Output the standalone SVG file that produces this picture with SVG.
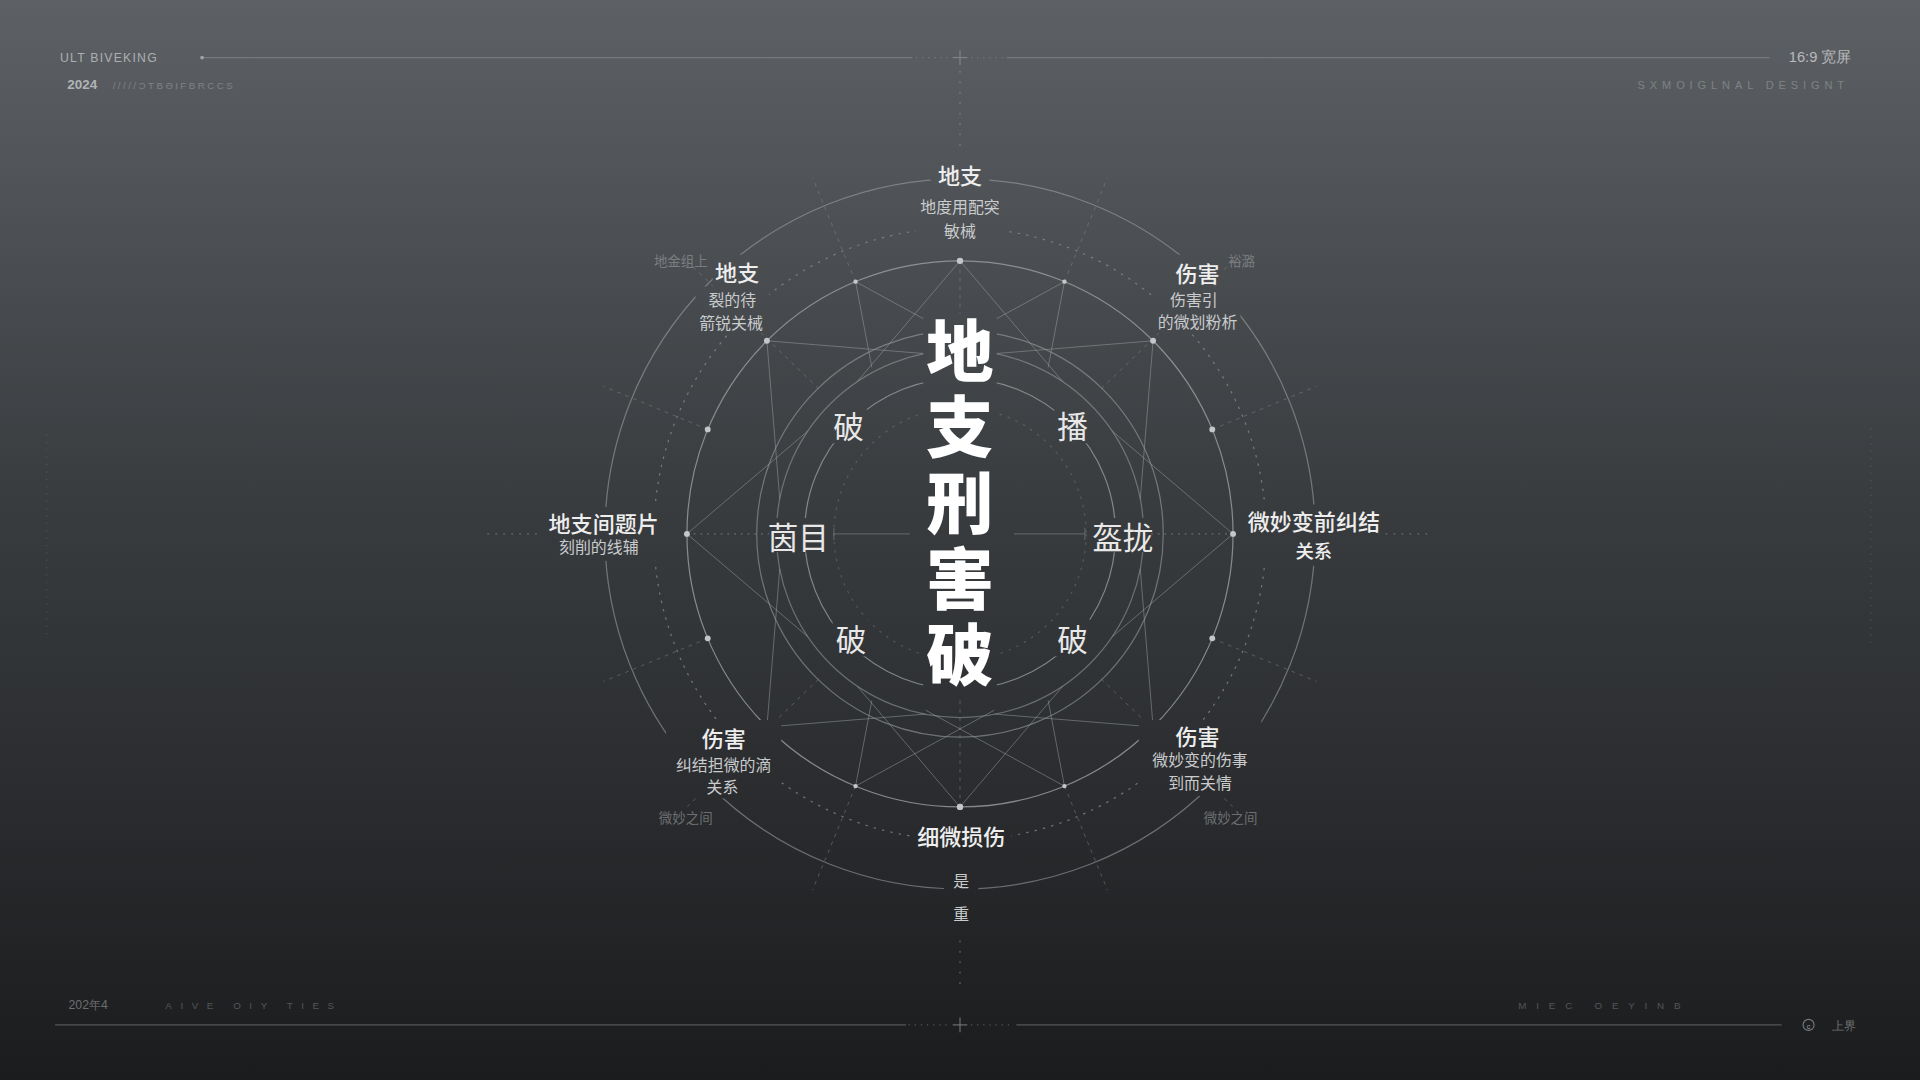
<svg xmlns="http://www.w3.org/2000/svg" width="1920" height="1080" viewBox="0 0 1920 1080">
<defs>
<linearGradient id="bg" gradientUnits="userSpaceOnUse" x1="0" y1="0" x2="0" y2="882">
<stop offset="0" stop-color="#5d6165"/>
<stop offset="0.45" stop-color="#3a3d40"/>
<stop offset="1" stop-color="#1b1c1e"/>
</linearGradient>
<style>
.ring{fill:none;stroke:#a4a7aa;stroke-width:1}
.dash{fill:none;stroke:#8f9295;stroke-width:1;stroke-dasharray:2 5}
.spoke{stroke:#8f9295;stroke-width:0.8;stroke-dasharray:3 4;opacity:0.45}
.star{stroke:#a0a3a6;stroke-width:0.8;opacity:0.5;fill:none}
.dot{fill:#c4c7c9}
.m{fill:url(#bg)}
.t{font-family:"Noto Sans CJK SC","Noto Sans",sans-serif;text-anchor:middle;dominant-baseline:central}
.lbl{fill:#eeeeee;font-size:18px;font-weight:500}
.sub{fill:#c9cbcd;font-size:13px;font-weight:400}
.faint{fill:#9a9da0;font-size:11px;opacity:0.6}
.inner{fill:#e8e8e8;font-size:25px}
.title{fill:#ffffff;font-size:55px;font-weight:900;font-family:"Noto Sans CJK SC","Noto Sans",sans-serif}
.hdr{font-family:"Liberation Sans","Noto Sans",sans-serif;fill:#c8cacc}
.line{stroke:#8a8d90;stroke-width:1}
</style>
</defs>
<g transform="scale(1.2244898)">
<rect x="0" y="0" width="1568" height="882" fill="url(#bg)"/>

<g id="frame">
<text class="hdr" x="49" y="51" font-size="10" letter-spacing="1" opacity="0.75">ULT BIVEKING</text>
<text class="hdr" x="55" y="73" font-size="11" font-weight="bold" opacity="0.8">2024</text>
<text class="hdr" x="92" y="73" font-size="8" letter-spacing="2" opacity="0.35">/////ƆTBƏIFBRCCS</text>
<line class="line" x1="165" y1="47" x2="745" y2="47" opacity="0.6"/>
<circle cx="165" cy="47" r="1.5" fill="#a0a3a6"/>
<line class="line" x1="748" y1="47" x2="775" y2="47" stroke-dasharray="1 4" opacity="0.6"/>
<line class="line" x1="778" y1="47" x2="790" y2="47" opacity="0.8"/>
<line class="line" x1="784" y1="41" x2="784" y2="53" opacity="0.8"/>
<line class="line" x1="793" y1="47" x2="820" y2="47" stroke-dasharray="1 4" opacity="0.6"/>
<line class="line" x1="822" y1="47" x2="1445" y2="47" opacity="0.6"/>
<text class="hdr" x="1512" y="51" font-size="12" text-anchor="end" opacity="0.85" font-family="Noto Sans CJK SC,sans-serif">16:9 宽屏</text>
<text class="hdr" x="1510" y="73" font-size="9" letter-spacing="4" text-anchor="end" opacity="0.35">SXMOIGLNAL DESIGNT</text>
<line class="line" x1="784" y1="58" x2="784" y2="120" stroke-dasharray="1.5 7" stroke-width="1.6" opacity="0.7"/>

<text class="hdr" x="56" y="824" font-size="10" opacity="0.45" font-family="Noto Sans CJK SC,sans-serif">202年4</text>
<text class="hdr" x="135" y="824" font-size="8" letter-spacing="7" opacity="0.3">AIVE  OIY TIES</text>
<text class="hdr" x="1240" y="824" font-size="8" letter-spacing="8" opacity="0.3">MIEC  OEYINB</text>
<line class="line" x1="45" y1="837" x2="740" y2="837" opacity="0.5"/>
<line class="line" x1="742" y1="837" x2="775" y2="837" stroke-dasharray="1 4" opacity="0.5"/>
<line class="line" x1="778" y1="837" x2="790" y2="837" opacity="0.7"/>
<line class="line" x1="784" y1="831" x2="784" y2="843" opacity="0.7"/>
<line class="line" x1="793" y1="837" x2="828" y2="837" stroke-dasharray="1 4" opacity="0.5"/>
<line class="line" x1="830" y1="837" x2="1455" y2="837" opacity="0.5"/>
<circle cx="1477" cy="837" r="4.5" fill="none" stroke="#a0a3a6" stroke-width="0.9" opacity="0.7"/>
<text class="hdr" x="1477" y="840" font-size="6" text-anchor="middle" opacity="0.7">c</text>
<text class="hdr" x="1496" y="841" font-size="10" opacity="0.45" font-family="Noto Sans CJK SC,sans-serif">上界</text>
<line class="line" x1="784" y1="768" x2="784" y2="805" stroke-dasharray="1.5 7" stroke-width="1.6" opacity="0.6"/>
<line class="line" x1="38" y1="355" x2="38" y2="520" stroke-dasharray="1 5" opacity="0.3"/>
<line class="line" x1="1528" y1="350" x2="1528" y2="530" stroke-dasharray="1 5" opacity="0.3"/>
</g>

<g id="connectors">
<circle class="ring" cx="784" cy="436" r="290" opacity="0.55"/>
<circle class="dash" cx="784" cy="436" r="250" opacity="0.7"/>
<circle class="ring" cx="784" cy="436" r="223" stroke-width="1.3" opacity="0.75"/>
<circle class="ring" cx="784" cy="436" r="166" opacity="0.55"/>
<circle class="ring" cx="784" cy="436" r="150" opacity="0.5"/>
<circle class="ring" cx="784" cy="436" r="127" opacity="0.7"/>
<circle class="dash" cx="784" cy="436" r="103" opacity="0.35"/>

<g>
<line class="spoke" x1="990.0" y1="350.7" x2="1075.0" y2="315.5"/>
<line class="spoke" x1="899.4" y1="317.5" x2="1006.7" y2="213.3"/>
<line class="spoke" x1="869.3" y1="230.0" x2="904.5" y2="145.0"/>
<line class="spoke" x1="698.7" y1="230.0" x2="663.5" y2="145.0"/>
<line class="spoke" x1="668.6" y1="317.5" x2="561.3" y2="213.3"/>
<line class="spoke" x1="578.0" y1="350.7" x2="493.0" y2="315.5"/>
<line class="spoke" x1="578.0" y1="521.3" x2="493.0" y2="556.5"/>
<line class="spoke" x1="668.6" y1="554.5" x2="561.3" y2="658.7"/>
<line class="spoke" x1="698.7" y1="642.0" x2="663.5" y2="727.0"/>
<line class="spoke" x1="869.3" y1="642.0" x2="904.5" y2="727.0"/>
<line class="spoke" x1="899.4" y1="554.5" x2="1006.7" y2="658.7"/>
<line class="spoke" x1="990.0" y1="521.3" x2="1075.0" y2="556.5"/>
<line class="spoke" x1="784" y1="213" x2="784" y2="262"/>
<line class="spoke" x1="784" y1="565" x2="784" y2="659"/>
</g>

<g>
<polyline class="star" points="700.1,311.6 784,213 867.9,311.6"/>
<polyline class="star" points="812.6,288.8 941.7,278.3 931.2,407.4"/>
<polyline class="star" points="908.4,352.1 1007,436 908.4,519.9"/>
<polyline class="star" points="931.2,464.6 941.7,593.7 812.6,583.2"/>
<polyline class="star" points="867.9,560.4 784,659 700.1,560.4"/>
<polyline class="star" points="755.4,583.2 626.3,593.7 636.8,464.6"/>
<polyline class="star" points="659.6,519.9 561,436 659.6,352.1"/>
<polyline class="star" points="636.8,407.4 626.3,278.3 755.4,288.8"/>
<polyline class="star" points="712,300 698.7,230 812,292" opacity="0.3"/>
<polyline class="star" points="856,300 869.3,230 756,292" opacity="0.3"/>
<polyline class="star" points="712,572 698.7,642 812,580" opacity="0.3"/>
<polyline class="star" points="856,572 869.3,642 756,580" opacity="0.3"/>
</g>

<line class="line" x1="398" y1="436" x2="442" y2="436" stroke-dasharray="1.5 5" stroke-width="1.5" opacity="0.6"/>
<line class="line" x1="1125" y1="436" x2="1168" y2="436" stroke-dasharray="1.5 5" stroke-width="1.5" opacity="0.6"/>
<line class="line" x1="561" y1="436" x2="628" y2="436" stroke-dasharray="1.5 4" stroke-width="1.2" opacity="0.6"/>
<line class="line" x1="940" y1="436" x2="1007" y2="436" stroke-dasharray="1.5 4" stroke-width="1.2" opacity="0.6"/>
<line class="line" x1="681" y1="436" x2="743" y2="436" opacity="0.45"/>
<line class="line" x1="681" y1="431" x2="681" y2="441" opacity="0.45"/>
<line class="line" x1="828" y1="436" x2="886" y2="436" opacity="0.45"/>
<line class="line" x1="886" y1="431" x2="886" y2="441" opacity="0.45"/>

<g>
<circle class="dot" cx="1007" cy="436" r="2.4"/>
<circle class="dot" cx="990.0" cy="350.7" r="2.4"/>
<circle class="dot" cx="941.7" cy="278.3" r="2.4"/>
<circle class="dot" cx="869.3" cy="230.0" r="1.8"/>
<circle class="dot" cx="784" cy="213" r="2.6"/>
<circle class="dot" cx="698.7" cy="230.0" r="1.8"/>
<circle class="dot" cx="626.3" cy="278.3" r="2.4"/>
<circle class="dot" cx="578.0" cy="350.7" r="2.4"/>
<circle class="dot" cx="561" cy="436" r="2.4"/>
<circle class="dot" cx="578.0" cy="521.3" r="2.4"/>
<circle class="dot" cx="626.3" cy="593.7" r="2.4"/>
<circle class="dot" cx="698.7" cy="642.0" r="1.8"/>
<circle class="dot" cx="784" cy="659" r="2.6"/>
<circle class="dot" cx="869.3" cy="642.0" r="1.8"/>
<circle class="dot" cx="941.7" cy="593.7" r="2.4"/>
<circle class="dot" cx="990.0" cy="521.3" r="2.4"/>
</g>
</g>

<g id="title">
<rect class="m" x="754" y="256" width="60" height="312"/>
<text class="title" x="784" y="259" writing-mode="vertical-rl" style="writing-mode:vertical-rl" letter-spacing="7">地支刑害破</text>
</g>

<g id="node-top">
<rect class="m" x="760" y="129" width="48" height="26"/>
<rect class="m" x="748" y="157" width="72" height="38"/>
<text class="t lbl"><tspan x="784" y="142">地支</tspan><tspan class="sub" x="784" y="168">地度用配突</tspan><tspan class="sub" x="784" y="188" font-size="12">敏械</tspan></text>
</g>

<g id="node-upper-left">
<text class="t faint" x="556" y="212">地金组上</text>
<rect class="m" x="582" y="208" width="40" height="26"/>
<rect class="m" x="568" y="234" width="60" height="38"/>
<text class="t lbl"><tspan x="602" y="221">地支</tspan><tspan class="sub" x="598" y="244">裂的待</tspan><tspan class="sub" x="597" y="263">箭锐关械</tspan></text>
</g>

<g id="node-upper-right">
<text class="t faint" x="1014" y="212">裕潞</text>
<rect class="m" x="958" y="208" width="40" height="26"/>
<rect class="m" x="943" y="234" width="70" height="38"/>
<text class="t lbl"><tspan x="978" y="222">伤害</tspan><tspan class="sub" x="975" y="244">伤害引</tspan><tspan class="sub" x="978" y="262">的微划粉析</tspan></text>
</g>

<g id="node-left">
<rect class="m" x="446" y="414" width="94" height="44"/>
<text class="t lbl" font-size="16"><tspan x="493" y="426">地支间题片</tspan><tspan class="sub" x="489" y="446" font-size="14">刻削的线辅</tspan></text>
</g>

<g id="node-right">
<rect class="m" x="1020" y="412" width="106" height="50"/>
<text class="t lbl" font-size="16"><tspan x="1073" y="425">微妙变前纠结</tspan><tspan x="1073" y="449" font-size="15">关系</tspan></text>
</g>

<g id="node-inner">
<rect class="m" x="678" y="332" width="30" height="30"/>
<text class="t inner" x="693" y="347">破</text>
<rect class="m" x="861" y="332" width="30" height="30"/>
<text class="t inner" x="876" y="347">播</text>
<rect class="m" x="630" y="423" width="44" height="28"/>
<text class="t inner" x="652" y="437" font-size="21">茵目</text>
<rect class="m" x="895" y="423" width="44" height="28"/>
<text class="t inner" x="917" y="437" font-size="21">盔拢</text>
<rect class="m" x="680" y="506" width="30" height="30"/>
<text class="t inner" x="695" y="521">破</text>
<rect class="m" x="861" y="506" width="30" height="30"/>
<text class="t inner" x="876" y="521">破</text>
</g>

<g id="node-lower-left">
<rect class="m" x="544" y="588" width="94" height="64"/>
<text class="t lbl"><tspan x="591" y="602">伤害</tspan><tspan class="sub" x="591" y="624" font-size="14">纠结担微的滴</tspan><tspan class="sub" x="590" y="642" font-size="14">关系</tspan></text>
<text class="t faint" x="560" y="667">微妙之间</text>
</g>

<g id="node-lower-right">
<rect class="m" x="930" y="588" width="100" height="62"/>
<text class="t lbl" font-size="16"><tspan x="978" y="600">伤害</tspan><tspan class="sub" x="980" y="620" font-size="14">微妙变的伤事</tspan><tspan class="sub" x="980" y="639" font-size="14">到而关情</tspan></text>
<text class="t faint" x="1005" y="667">微妙之间</text>
</g>

<g id="node-bottom">
<rect class="m" x="744" y="669" width="82" height="27"/>
<text class="t lbl" x="785" y="682" font-size="19">细微损伤</text>
<rect class="m" x="771" y="705" width="28" height="54"/>
<text class="t sub" font-size="17"><tspan x="785" y="719">是</tspan><tspan x="785" y="746">重</tspan></text>
</g>
</g>
</svg>
